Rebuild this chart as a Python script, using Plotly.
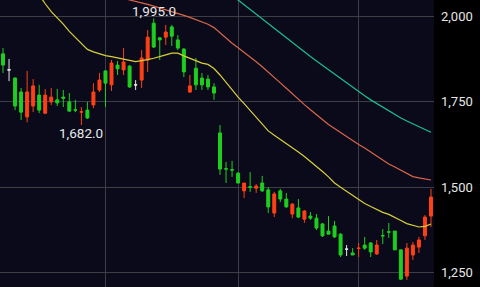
import plotly.graph_objects as go

# ---- data ----
opens = [1891, 1844, 1820, 1779, 1706, 1738, 1770, 1717, 1750, 1756,
         1764, 1750, 1727, 1720, 1726, 1741, 1785, 1841, 1800, 1858,
         1844, 1855, 1800, 1814, 1873, 1981, 1938, 1940, 1970, 1932,
         1905, 1779, 1849, 1820, 1817, 1794, 1659, 1554, 1551, 1541,
         1489, 1501, 1497, 1512, 1492, 1424, 1489, 1465, 1421, 1439,
         1406, 1415, 1409, 1392, 1371, 1386, 1362, 1318, 1307, 1320,
         1330, 1336, 1304, 1358, 1369, 1371, 1316, 1239, 1301, 1324,
         1357, 1415]
highs = [1908, 1876, 1822, 1791, 1841, 1817, 1800, 1788, 1791, 1788,
         1785, 1776, 1756, 1735, 1750, 1805, 1835, 1843, 1873, 1870,
         1908, 1858, 1814, 1902, 1961, 1995, 1940, 1976, 1976, 1946,
         1908, 1829, 1879, 1835, 1829, 1805, 1682, 1574, 1577, 1544,
         1512, 1544, 1509, 1533, 1500, 1486, 1495, 1483, 1453, 1465,
         1433, 1427, 1421, 1395, 1415, 1401, 1365, 1330, 1321, 1336,
         1354, 1339, 1345, 1377, 1395, 1371, 1316, 1336, 1339, 1354,
         1418, 1495]
lows = [1835, 1811, 1726, 1697, 1690, 1720, 1717, 1714, 1741, 1738,
        1735, 1720, 1720, 1682, 1700, 1732, 1779, 1735, 1782, 1829,
        1829, 1791, 1785, 1791, 1838, 1908, 1873, 1917, 1914, 1902,
        1823, 1776, 1785, 1785, 1785, 1756, 1536, 1512, 1530, 1512,
        1468, 1486, 1483, 1486, 1424, 1412, 1456, 1440, 1409, 1409,
        1395, 1404, 1374, 1354, 1362, 1351, 1295, 1298, 1301, 1295,
        1316, 1295, 1301, 1333, 1351, 1316, 1228, 1228, 1286, 1307,
        1345, 1383]
closes = [1858, 1844, 1738, 1720, 1779, 1797, 1726, 1770, 1764, 1747,
          1761, 1723, 1726, 1721, 1703, 1779, 1814, 1805, 1864, 1847,
          1867, 1794, 1800, 1879, 1940, 1911, 1932, 1955, 1943, 1908,
          1838, 1797, 1800, 1800, 1794, 1776, 1553, 1553, 1550, 1512,
          1512, 1500, 1503, 1489, 1442, 1480, 1465, 1442, 1450, 1412,
          1430, 1409, 1380, 1357, 1362, 1354, 1301, 1318, 1301, 1321,
          1321, 1310, 1330, 1357, 1368, 1316, 1230, 1321, 1330, 1345,
          1412, 1471]

ma_short = [2200, 2180, 2160, 2140, 2115, 2090, 2062, 2038, 2015, 1998,
            1978, 1957, 1940, 1922, 1904, 1897, 1891, 1886, 1883, 1880,
            1877, 1872, 1868, 1870, 1874, 1878, 1882, 1888, 1893, 1893,
            1885, 1878, 1870, 1864, 1860, 1848, 1829, 1807, 1785, 1764,
            1745, 1725, 1705, 1685, 1665, 1652, 1640, 1629, 1616, 1603,
            1590, 1576, 1562, 1546, 1530, 1512, 1500, 1488, 1474, 1462,
            1452, 1443, 1434, 1426, 1420, 1412, 1402, 1393, 1387, 1383,
            1385, 1392]
ma_mid = [2150, 2145, 2140, 2135, 2130, 2125, 2120, 2115, 2110, 2105,
          2100, 2095, 2090, 2085, 2080, 2075, 2070, 2066, 2062, 2058,
          2054, 2050, 2046, 2041, 2036, 2031, 2026, 2021, 2016, 2010,
          2004, 1998, 1991, 1984, 1978, 1968, 1952, 1937, 1922, 1909,
          1896, 1882, 1868, 1853, 1838, 1822, 1806, 1790, 1773, 1757,
          1742, 1727, 1712, 1698, 1684, 1672, 1660, 1648, 1636, 1625,
          1615, 1603, 1592, 1580, 1568, 1559, 1550, 1539, 1531, 1527,
          1523, 1521]
ma_long = [2300, 2295, 2290, 2285, 2280, 2275, 2270, 2265, 2260, 2255,
           2250, 2245, 2240, 2235, 2230, 2225, 2220, 2215, 2210, 2205,
           2200, 2195, 2190, 2185, 2180, 2170, 2160, 2150, 2140, 2130,
           2120, 2110, 2100, 2090, 2080, 2075, 2070, 2066, 2062, 2049,
           2035, 2021, 2007, 1993, 1979, 1965, 1951, 1937, 1923, 1909,
           1896, 1883, 1870, 1857, 1844, 1831, 1818, 1805, 1792, 1780,
           1768, 1756, 1745, 1734, 1723, 1713, 1703, 1694, 1685, 1677,
           1669, 1661]

month_starts = [17, 39, 59]
y_ticks = [1250, 1500, 1750, 2000]
marked_high = 25   # candle whose high is labelled
marked_low = 13    # candle whose low is labelled

UP = "#ff4016"
DOWN = "#1fcf1f"
FLAT = "#e6e6e6"

idx = list(range(len(opens)))

fig = go.Figure()

def add_group(mask, color):
    xs = [i for i in idx if mask(i)]
    fig.add_trace(go.Candlestick(
        x=xs,
        open=[opens[i] for i in xs], high=[highs[i] for i in xs],
        low=[lows[i] for i in xs], close=[closes[i] for i in xs],
        increasing=dict(line=dict(color=color, width=1), fillcolor=color),
        decreasing=dict(line=dict(color=color, width=1), fillcolor=color),
        whiskerwidth=0, showlegend=False, hoverinfo="skip"))

add_group(lambda i: closes[i] < opens[i], DOWN)
add_group(lambda i: closes[i] > opens[i], UP)
add_group(lambda i: closes[i] == opens[i], FLAT)

for vals, col in [(ma_short, "#d8cf3a"), (ma_mid, "#d9664a"), (ma_long, "#1dbf8e")]:
    fig.add_trace(go.Scatter(x=idx, y=vals, mode="lines",
                             line=dict(color=col, width=1.2),
                             showlegend=False, hoverinfo="skip"))

fig.add_annotation(x=marked_high, y=highs[marked_high],
                   text=f"{highs[marked_high]:,.1f}",
                   showarrow=False, yanchor="bottom", yshift=-3,
                   font=dict(family="Roboto", size=13.5, color="#e8e8e8"))
fig.add_annotation(x=marked_low, y=lows[marked_low],
                   text=f"{lows[marked_low]:,.1f}",
                   showarrow=False, yanchor="top", yshift=2,
                   font=dict(family="Roboto", size=13.5, color="#e8e8e8"))

fig.update_layout(
    width=480, height=287,
    margin=dict(l=0, r=46, t=0, b=0),
    paper_bgcolor="#000000",
    plot_bgcolor="#0a0a1a",
    showlegend=False,
    xaxis=dict(range=[-0.5, 71.5], tickvals=month_starts, showticklabels=False,
               showgrid=True, gridcolor="#3d3d46", gridwidth=1,
               zeroline=False, showline=False, ticks="",
               rangeslider=dict(visible=False), fixedrange=True),
    yaxis=dict(range=[1207, 2049], side="right", tickvals=y_ticks,
               ticktext=[f"{v:,}" for v in y_ticks],
               showgrid=True, gridcolor="#3d3d46", gridwidth=1,
               zeroline=False, showline=False, ticks="",
               ticklabelstandoff=6,
               tickfont=dict(family="Roboto", size=13, color="#e6e6e6")),
)

fig.write_html("out.html")
